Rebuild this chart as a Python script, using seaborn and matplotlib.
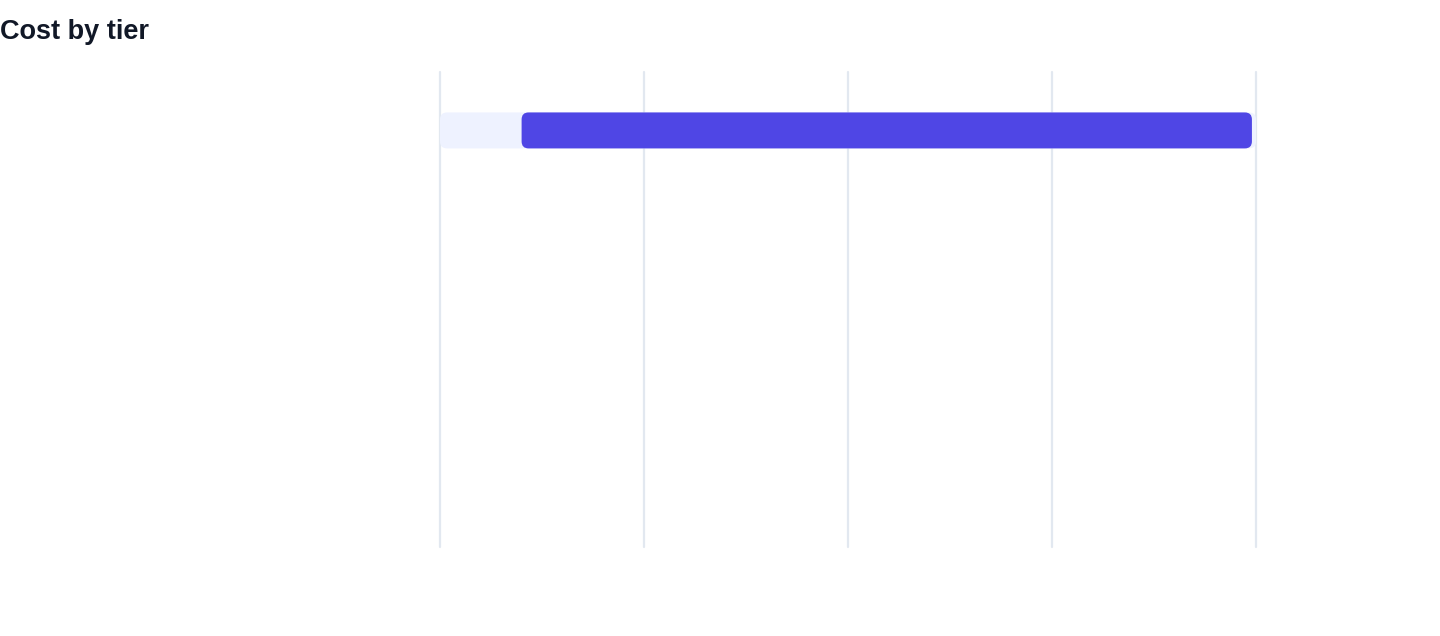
import pandas as pd
import numpy as np
import matplotlib
matplotlib.use("Agg")
import matplotlib.pyplot as plt
from matplotlib.patches import FancyBboxPatch
import seaborn as sns

# Datos del grafico
tiers = ["Tier 1", "Tier 2", "Tier 3", "Tier 4"]
cost_start = [10, np.nan, np.nan, np.nan]
cost_end = [99.5, np.nan, np.nan, np.nan]
track_max = [100, np.nan, np.nan, np.nan]
x_ticks = [0, 25, 50, 75, 100]

df = pd.DataFrame({"tier": tiers, "start": cost_start, "end": cost_end, "track": track_max})

sns.set_theme(style="white")
plt.rcParams["font.family"] = ["Liberation Sans", "DejaVu Sans"]

fig = plt.figure(figsize=(14.4, 6.36), dpi=100)
ax = fig.add_axes([440 / 1440, (636 - 547) / 636, 816 / 1440, 475 / 636])

# pista de fondo y barra de rango
sns.barplot(data=df, x="track", y="tier", order=tiers, color="#EEF2FF",
            width=0.303, saturation=1, ax=ax, zorder=2)
n_track = len(ax.patches)
sns.barplot(data=df, x="end", y="tier", order=tiers, color="#4F46E5",
            width=0.303, saturation=1, ax=ax, zorder=3)
for p, s in zip(ax.patches[n_track:], df["start"]):
    if not np.isnan(s):
        end = p.get_x() + p.get_width()
        p.set_x(s)
        p.set_width(end - s)

ax.set_xlim(0, 100)
ax.set_ylim(3.508, -0.492)
ax.set_xticks(x_ticks)
ax.set_xticklabels([])
ax.set_yticks([])
ax.set_xlabel("")
ax.set_ylabel("")
ax.tick_params(length=0)
ax.grid(axis="x", color="#E2E8F0", linewidth=1.6, zorder=0)
ax.set_axisbelow(True)
for gl in ax.get_xgridlines():
    gl.set_clip_on(False)
sns.despine(ax=ax, left=True, bottom=True)

# esquinas redondeadas
fig.canvas.draw()
for p in list(ax.patches):
    w = p.get_width()
    if np.isnan(w) or w == 0:
        p.remove()
        continue
    bb = p.get_window_extent()
    rp = FancyBboxPatch((bb.x0, bb.y0), bb.width, bb.height,
                        boxstyle="round,pad=0,rounding_size=7",
                        facecolor=p.get_facecolor(), edgecolor="none",
                        transform=None, zorder=p.get_zorder())
    p.remove()
    fig.add_artist(rp)

fig.text(0, 1 - 32 / 636, "Cost by tier", fontsize=19.5, fontweight="bold",
         color="#111827", ha="left", va="center")

fig.savefig("out.png", dpi=100)
